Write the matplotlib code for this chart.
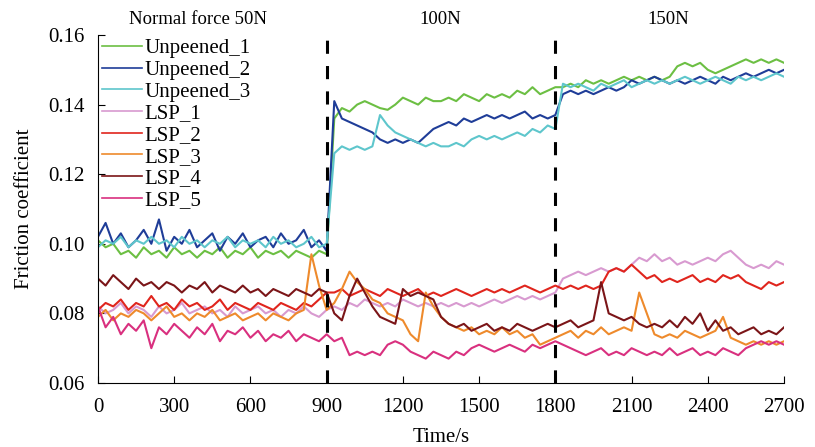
import numpy as np
import matplotlib
matplotlib.use("Agg")
import matplotlib.pyplot as plt

plt.rcParams['font.family'] = ['Liberation Serif', 'DejaVu Serif']

# sample times, one reading every 30 s (0 ... 2700 s)
time_s = np.arange(0, 2701, 30)

# values, per segment: 0-900 s | 930-1800 s | 1830-2700 s
unpeened_1 = [0.101, 0.099, 0.100, 0.097, 0.098, 0.096, 0.099, 0.097, 0.098, 0.096, 0.099,
              0.097, 0.098, 0.096, 0.098, 0.097, 0.099, 0.096, 0.098, 0.097, 0.099, 0.096,
              0.098, 0.097, 0.098, 0.096, 0.098, 0.097, 0.096, 0.098, 0.097,
              0.136, 0.139, 0.138, 0.140, 0.141, 0.140, 0.139, 0.1385, 0.140, 0.142,
              0.141, 0.140, 0.142, 0.141, 0.141, 0.142, 0.141, 0.143, 0.142, 0.141,
              0.143, 0.142, 0.143, 0.142, 0.144, 0.143, 0.145, 0.143, 0.144, 0.145,
              0.145, 0.146, 0.145, 0.147, 0.146, 0.147, 0.146, 0.147, 0.148, 0.147,
              0.148, 0.147, 0.148, 0.147, 0.148, 0.151, 0.152, 0.151, 0.152, 0.150,
              0.149, 0.150, 0.151, 0.152, 0.153, 0.152, 0.153, 0.152, 0.153, 0.152]
unpeened_2 = [0.102, 0.106, 0.100, 0.103, 0.099, 0.101, 0.104, 0.100, 0.107, 0.098, 0.102,
              0.100, 0.104, 0.099, 0.101, 0.103, 0.098, 0.102, 0.100, 0.103, 0.099, 0.101,
              0.102, 0.099, 0.103, 0.100, 0.101, 0.104, 0.099, 0.101, 0.098,
              0.141, 0.136, 0.135, 0.134, 0.133, 0.132, 0.130, 0.129, 0.130, 0.129,
              0.130, 0.129, 0.131, 0.133, 0.134, 0.135, 0.134, 0.136, 0.135, 0.136,
              0.137, 0.136, 0.137, 0.136, 0.137, 0.138, 0.136, 0.137, 0.136, 0.137,
              0.143, 0.144, 0.143, 0.144, 0.143, 0.144, 0.145, 0.144, 0.145, 0.147,
              0.146, 0.147, 0.148, 0.147, 0.146, 0.147, 0.146, 0.147, 0.148, 0.147,
              0.146, 0.148, 0.147, 0.148, 0.149, 0.148, 0.149, 0.150, 0.149, 0.150]
unpeened_3 = [0.099, 0.101, 0.100, 0.102, 0.099, 0.101, 0.100, 0.102, 0.100, 0.101, 0.099,
              0.102, 0.100, 0.101, 0.099, 0.101, 0.100, 0.102, 0.099, 0.101, 0.100, 0.101,
              0.099, 0.102, 0.100, 0.101, 0.099, 0.100, 0.102, 0.099, 0.100,
              0.126, 0.128, 0.127, 0.128, 0.127, 0.128, 0.137, 0.134, 0.132, 0.131,
              0.130, 0.129, 0.128, 0.129, 0.128, 0.128, 0.129, 0.128, 0.130, 0.131,
              0.130, 0.131, 0.130, 0.131, 0.132, 0.131, 0.133, 0.132, 0.134, 0.133,
              0.146, 0.145, 0.146, 0.145, 0.144, 0.146, 0.145, 0.146, 0.147, 0.145,
              0.146, 0.147, 0.146, 0.147, 0.146, 0.147, 0.148, 0.147, 0.146, 0.147,
              0.148, 0.147, 0.146, 0.148, 0.147, 0.148, 0.147, 0.148, 0.149, 0.148]
lsp_1 = [0.082, 0.080, 0.081, 0.083, 0.080, 0.082, 0.081, 0.079, 0.082, 0.080, 0.081,
         0.083, 0.080, 0.081, 0.082, 0.080, 0.081, 0.079, 0.082, 0.080, 0.081, 0.082,
         0.080, 0.081, 0.079, 0.081, 0.080, 0.082, 0.080, 0.079, 0.081,
         0.082, 0.081, 0.083, 0.082, 0.084, 0.083, 0.082, 0.083, 0.082, 0.084,
         0.083, 0.082, 0.083, 0.082, 0.083, 0.082, 0.083, 0.082, 0.083, 0.082,
         0.083, 0.084, 0.083, 0.084, 0.085, 0.084, 0.085, 0.084, 0.085, 0.086,
         0.090, 0.091, 0.092, 0.091, 0.092, 0.093, 0.092, 0.093, 0.092, 0.094,
         0.096, 0.095, 0.097, 0.095, 0.096, 0.094, 0.095, 0.094, 0.095, 0.096,
         0.095, 0.097, 0.098, 0.096, 0.094, 0.093, 0.094, 0.093, 0.095, 0.094]
lsp_2 = [0.081, 0.083, 0.082, 0.084, 0.081, 0.083, 0.082, 0.085, 0.082, 0.083, 0.081,
         0.084, 0.082, 0.083, 0.081, 0.082, 0.084, 0.081, 0.083, 0.082, 0.081, 0.083,
         0.082, 0.081, 0.083, 0.082, 0.081, 0.083, 0.082, 0.084, 0.086,
         0.086, 0.087, 0.085, 0.086, 0.087, 0.086, 0.085, 0.087, 0.086, 0.085,
         0.086, 0.087, 0.085, 0.086, 0.085, 0.086, 0.087, 0.086, 0.085, 0.086,
         0.087, 0.086, 0.087, 0.086, 0.087, 0.088, 0.087, 0.086, 0.087, 0.088,
         0.087, 0.088, 0.087, 0.088, 0.087, 0.088, 0.092, 0.093, 0.092, 0.094,
         0.092, 0.090, 0.091, 0.089, 0.090, 0.089, 0.090, 0.091, 0.089, 0.090,
         0.089, 0.091, 0.090, 0.091, 0.089, 0.088, 0.087, 0.089, 0.088, 0.089]
lsp_3 = [0.079, 0.081, 0.078, 0.080, 0.079, 0.081, 0.080, 0.078, 0.080, 0.082, 0.079,
         0.080, 0.078, 0.080, 0.079, 0.081, 0.078, 0.079, 0.080, 0.078, 0.079, 0.080,
         0.078, 0.080, 0.079, 0.078, 0.080, 0.081, 0.097, 0.088, 0.081,
         0.083, 0.087, 0.092, 0.089, 0.087, 0.084, 0.083, 0.080, 0.079, 0.078,
         0.074, 0.072, 0.086, 0.082, 0.079, 0.077, 0.076, 0.075, 0.076, 0.074,
         0.075, 0.074, 0.076, 0.074, 0.075, 0.073, 0.074, 0.071, 0.072, 0.073,
         0.074, 0.075, 0.073, 0.075, 0.074, 0.076, 0.074, 0.075, 0.076, 0.075,
         0.086, 0.080, 0.074, 0.073, 0.074, 0.073, 0.075, 0.074, 0.073, 0.074,
         0.075, 0.079, 0.073, 0.072, 0.071, 0.072, 0.071, 0.072, 0.071, 0.072]
lsp_4 = [0.090, 0.088, 0.091, 0.089, 0.087, 0.090, 0.088, 0.089, 0.087, 0.089, 0.088,
         0.086, 0.088, 0.087, 0.089, 0.086, 0.088, 0.087, 0.086, 0.088, 0.086, 0.087,
         0.085, 0.087, 0.086, 0.085, 0.087, 0.086, 0.085, 0.087, 0.086,
         0.080, 0.078, 0.085, 0.090, 0.086, 0.082, 0.079, 0.078, 0.077, 0.087,
         0.085, 0.086, 0.085, 0.084, 0.079, 0.077, 0.076, 0.077, 0.075, 0.076,
         0.077, 0.075, 0.076, 0.075, 0.077, 0.076, 0.075, 0.076, 0.077, 0.076,
         0.077, 0.078, 0.076, 0.077, 0.078, 0.089, 0.080, 0.079, 0.078, 0.079,
         0.077, 0.076, 0.077, 0.076, 0.078, 0.076, 0.079, 0.077, 0.080, 0.075,
         0.078, 0.075, 0.076, 0.074, 0.075, 0.076, 0.074, 0.075, 0.074, 0.076]
lsp_5 = [0.082, 0.076, 0.079, 0.074, 0.077, 0.075, 0.078, 0.070, 0.076, 0.074, 0.077,
         0.075, 0.073, 0.076, 0.074, 0.077, 0.072, 0.075, 0.074, 0.076, 0.073, 0.075,
         0.072, 0.074, 0.073, 0.075, 0.072, 0.074, 0.073, 0.072, 0.074,
         0.072, 0.073, 0.068, 0.069, 0.068, 0.069, 0.068, 0.071, 0.072, 0.071,
         0.069, 0.068, 0.067, 0.069, 0.068, 0.067, 0.069, 0.068, 0.070, 0.071,
         0.070, 0.069, 0.070, 0.071, 0.070, 0.069, 0.071, 0.070, 0.071, 0.072,
         0.071, 0.070, 0.069, 0.068, 0.069, 0.070, 0.068, 0.069, 0.068, 0.070,
         0.069, 0.068, 0.069, 0.068, 0.070, 0.068, 0.069, 0.070, 0.068, 0.069,
         0.068, 0.070, 0.069, 0.068, 0.070, 0.071, 0.072, 0.071, 0.072, 0.071]

series_names = ['Unpeened_1', 'Unpeened_2', 'Unpeened_3',
                'LSP_1', 'LSP_2', 'LSP_3', 'LSP_4', 'LSP_5']
series_vals = [unpeened_1, unpeened_2, unpeened_3, lsp_1, lsp_2, lsp_3, lsp_4, lsp_5]
colors = ['#6cbf43', '#1f3d98', '#5ec6cc', '#d89ad0',
          '#e0251d', '#ee8a2c', '#7b1518', '#d9307f']

force_changes = [900, 1800]
force_labels = ['Normal force 50N', '100N', '150N']
force_label_x = [394, 1346, 2243]

fig = plt.figure(figsize=(8.15, 4.47), dpi=100)
ax = fig.add_axes([0.1202, 0.1432, 0.8418, 0.7785])

for name, vals, c in zip(series_names, series_vals, colors):
    ax.plot(time_s, vals, color=c, linewidth=1.5, label=name)

for xc in force_changes:
    ax.plot([xc, xc], [0.06, 0.159], color='black', linestyle=(0, (4.3, 4)),
            linewidth=2.2, zorder=5)

for lab, xl in zip(force_labels, force_label_x):
    ax.text(xl, 0.1645, lab, ha='center', va='center', fontsize=13.5, clip_on=False)

ax.set_xlim(0, 2700)
ax.set_ylim(0.06, 0.16)
ax.set_xticks(np.arange(0, 2701, 300))
ax.set_yticks(np.arange(0.06, 0.161, 0.02))
ax.set_yticklabels(['%.2f' % v for v in np.arange(0.06, 0.161, 0.02)])
ax.tick_params(direction='in', length=5, labelsize=15)
ax.tick_params(axis='x', pad=11)
ax.tick_params(axis='y', pad=9.5)
ax.spines['top'].set_visible(False)
ax.spines['right'].set_visible(False)
ax.set_xlabel('Time/s', fontsize=15, labelpad=8)
ax.set_ylabel('Friction coefficient', fontsize=15, labelpad=10)

leg = ax.legend(loc='upper left', bbox_to_anchor=(-0.0124, 1.025), frameon=False,
                fontsize=15, handlelength=1.92, handletextpad=0.1, labelspacing=0.1,
                borderaxespad=0.2)
for h in leg.get_lines():
    h.set_linewidth(1.2)

fig.savefig('out.png', dpi=100)
